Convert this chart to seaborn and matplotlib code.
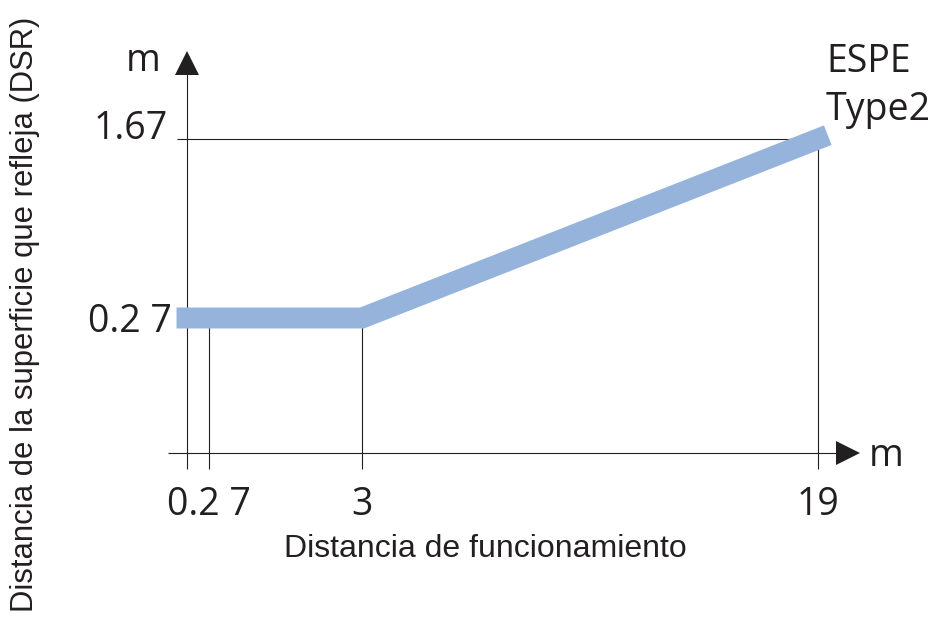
import numpy as np
import matplotlib
matplotlib.use("Agg")
import matplotlib.pyplot as plt
import seaborn as sns

# ---- data ----
dist = [0, 3, 19]              # Distancia de funcionamiento (m)
dsr = [0.27, 0.27, 1.67]       # Distancia de la superficie que refleja (m)
x_ticks = [0.27, 3, 19]
x_tick_labels = ["0.2 7", "3", "19"]
y_ticks = [0.27, 1.67]
y_tick_labels = ["0.2 7", "1.67"]
series_label = ["ESPE", "Type2"]
x_title = "Distancia de funcionamiento"
y_title = "Distancia de la superficie que refleja (DSR)"
unit = "m"

# ---- schematic (non-proportional) axis layout: value -> pixel ----
W, H = 935, 617
X_BREAKS, X_PIX = [0, 0.27, 3, 19], [187, 209, 362, 818]
Y_BREAKS, Y_PIX = [0, 0.27, 1.67], [453, 318, 139]

BLUE = "#95b3db"
INK = "#231f20"
NUM_FONT = ["Open Sans", "DejaVu Sans"]
TITLE_FONT = ["Liberation Sans", "DejaVu Sans"]


def piecewise(d, p):
    d = np.asarray(d, float)
    p = np.asarray(p, float)

    def make(a, b):
        s0 = (b[1] - b[0]) / (a[1] - a[0])
        s1 = (b[-1] - b[-2]) / (a[-1] - a[-2])

        def f(v):
            v = np.asarray(v, float)
            out = np.interp(v, a, b)
            out = np.where(v < a[0], b[0] + (v - a[0]) * s0, out)
            out = np.where(v > a[-1], b[-1] + (v - a[-1]) * s1, out)
            return out
        return f
    return make(d, p), make(p, d)


sns.set_theme(style="white")
fig = plt.figure(figsize=(W / 100, H / 100), dpi=100)
ax = fig.add_axes([0, 0, 1, 1])

sns.lineplot(x=dist, y=dsr, ax=ax, color=BLUE, linewidth=15.1, sort=False,
             solid_capstyle="projecting", solid_joinstyle="miter", zorder=3)

fx, ix = piecewise(X_BREAKS, X_PIX)
fy, iy = piecewise(Y_BREAKS, [H - p for p in Y_PIX])
ax.set_xscale("function", functions=(fx, ix))
ax.set_yscale("function", functions=(fy, iy))


def px2x(p):
    return float(ix(p))


def py2y(p):
    return float(iy(H - p))


lw = 0.8
y_bot = py2y(469)
# guide lines
ax.vlines(x_ticks[:2], y_bot, dsr[0], color=INK, lw=lw, zorder=2)
ax.vlines(x_ticks[2], y_bot, y_ticks[1], color=INK, lw=lw, zorder=2)
ax.hlines(y_ticks[1], px2x(177), x_ticks[2], color=INK, lw=lw, zorder=2)
# axes with arrows
ax.vlines(0, y_bot, py2y(72), color=INK, lw=lw, zorder=2)
ax.hlines(0, px2x(168), px2x(838), color=INK, lw=lw, zorder=2)
ax.plot([0], [py2y(62.5)], marker="^", ms=17, color=INK, mew=0, zorder=4)
ax.plot([px2x(847.5)], [0], marker=">", ms=17, color=INK, mew=0, zorder=4)

# tick labels
for t, l in zip(x_ticks, x_tick_labels):
    ax.text(t, py2y(515), l, ha="center", va="baseline", fontsize=27,
            family=NUM_FONT, color=INK)
ax.text(px2x(172), y_ticks[0], y_tick_labels[0], ha="right",
        va="center_baseline", fontsize=27, family=NUM_FONT, color=INK)
ax.text(px2x(168), y_ticks[1], y_tick_labels[1], ha="right",
        va="baseline", fontsize=27, family=NUM_FONT, color=INK)

# unit labels
ax.text(px2x(143), py2y(71), unit, ha="center", va="baseline", fontsize=27,
        family=NUM_FONT, color=INK)
ax.text(px2x(886), py2y(466), unit, ha="center", va="baseline", fontsize=27,
        family=NUM_FONT, color=INK)

# series label
ax.text(px2x(826), py2y(72), series_label[0], ha="left", va="baseline",
        fontsize=27, family=NUM_FONT, color=INK)
ax.text(px2x(826), py2y(120), series_label[1], ha="left", va="baseline",
        fontsize=27, family=NUM_FONT, color=INK)

# axis titles
fig.text(485 / W, 1 - 557 / H, x_title, ha="center", va="baseline",
         fontsize=23, family=TITLE_FONT, color=INK)
fig.text(25 / W, 1 - 314 / H, y_title, ha="center", va="center",
         rotation=90, fontsize=22.3, family=TITLE_FONT, color=INK)

ax.set_xlim(px2x(0), px2x(W))
ax.set_ylim(py2y(H), py2y(0))
ax.axis("off")

fig.savefig("out.png", dpi=100)
